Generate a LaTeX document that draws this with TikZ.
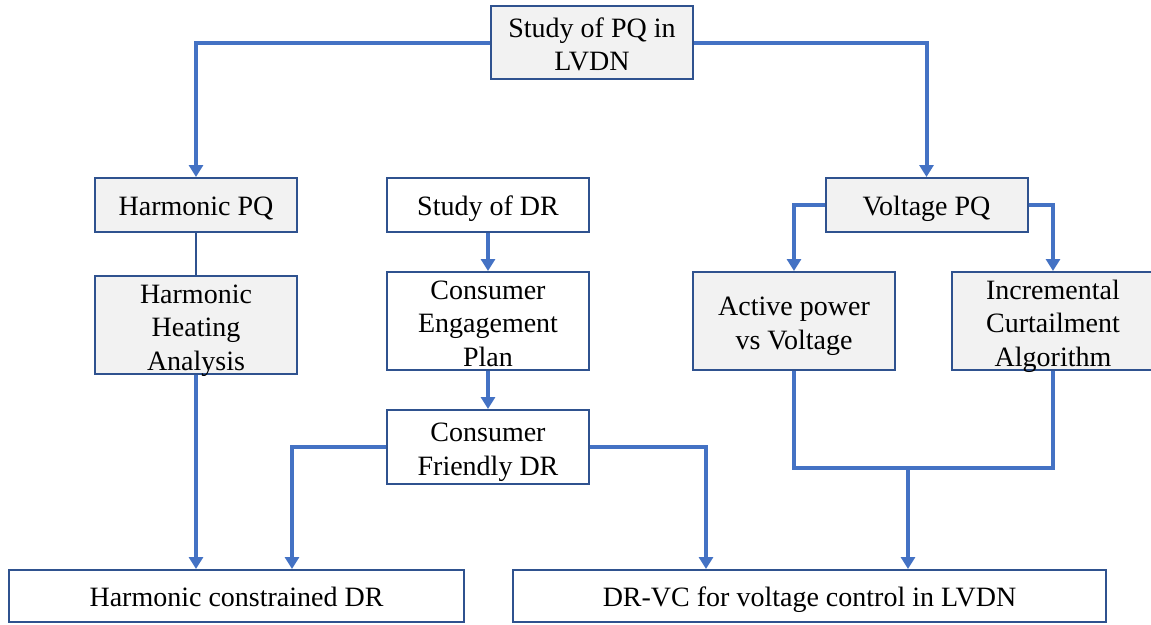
\documentclass[tikz,border=0pt]{standalone}
\usepackage{fontspec}
\setmainfont{Liberation Serif}
\usetikzlibrary{arrows.meta}
\definecolor{edgeblue}{HTML}{2F528F}
\definecolor{linkblue}{HTML}{4472C4}
\definecolor{boxgray}{HTML}{F2F2F2}
% centred lines, baseline at the first line
\newcommand\boxlines[1]{\begin{tabular}[t]{@{}c@{}}#1\end{tabular}}
\begin{document}
\begin{tikzpicture}[x=1pt,y=-1pt,
  box/.style={draw=edgeblue,line width=2pt,fill=white,inner sep=0pt,
    minimum width=202pt,font=\fontsize{28}{33.5}\selectfont,
    text height=20pt,text depth=0pt},
  two/.style={text height=0pt,text depth=11pt},
  three/.style={text height=0pt,text depth=44pt},
  graybox/.style={box,fill=boxgray},
  conn/.style={draw=linkblue,line width=4pt},
  arr/.style={conn,-{Triangle[length=12pt,width=14pt]}},
  thin link/.style={draw=edgeblue,line width=2pt}]
\fill[white] (0,0) rectangle (1151,624);
\useasboundingbox (0,0) rectangle (1151,624);

% boxes
\node[graybox,two,minimum height=73pt] (top) at (592,42.5) {\boxlines{Study of PQ in\\LVDN}};
\node[graybox,minimum height=54pt] (hpq) at (196,205) {Harmonic PQ};
\node[box,minimum height=54pt] (sdr) at (488,205) {Study of DR};
\node[graybox,minimum height=54pt] (vpq) at (926.5,205) {Voltage PQ};
\node[graybox,three,minimum height=98pt] (hha) at (196,325) {\boxlines{Harmonic\\Heating\\Analysis}};
\node[box,three,minimum height=98pt] (cep) at (488,321) {\boxlines{Consumer\\Engagement\\Plan}};
\node[box,two,minimum height=74pt] (cf) at (488,447) {\boxlines{Consumer\\Friendly DR}};
\node[graybox,two,minimum height=98pt] (ap) at (794,321) {\boxlines{Active power\\vs Voltage}};
\node[graybox,three,minimum height=98pt] (ica) at (1053,321) {\boxlines{Incremental\\Curtailment\\Algorithm}};
\node[box,minimum height=52pt,minimum width=455pt] (hcd) at (236.5,596) {Harmonic constrained DR};
\node[box,minimum height=52pt,minimum width=593pt] (drvc) at (809.5,596) {DR-VC for voltage control in LVDN};

% connectors
\draw[arr] (top.west) -| (hpq.north);
\draw[arr] (top.east) -| (vpq.north);
\draw[thin link] (hpq.south) -- (hha.north);
\draw[arr] (hha.south) -- (hha.south |- hcd.north);
\draw[arr] (sdr.south) -- (cep.north);
\draw[arr] (cep.south) -- (cf.north);
\draw[arr] (cf.west) -| ([xshift=55.5pt]hcd.north);
\draw[arr] (cf.east) -| ([xshift=-103.5pt]drvc.north);
\draw[arr] (vpq.west) -| (ap.north);
\draw[arr] (vpq.east) -| (ica.north);
\coordinate (join) at (908,468);
\draw[conn] (ap.south) |- (join) -| (ica.south);
\draw[arr] (join) -- (join |- drvc.north);
\end{tikzpicture}
\end{document}
